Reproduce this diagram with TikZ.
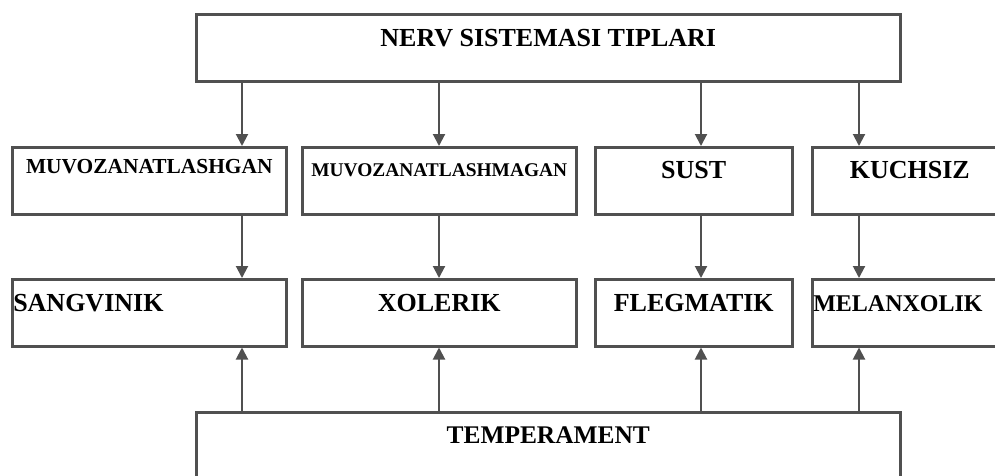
\documentclass[tikz,border=0pt]{standalone}
\usepackage{fontspec}
\setmainfont{Liberation Serif}
\usepackage{xcolor}
\usepackage{tikz}
\usetikzlibrary{arrows.meta, positioning}
\definecolor{linegray}{HTML}{505050}
\tikzset{
    typebox/.style={rectangle, draw=linegray, line width=2.5pt, fill=white, anchor=north west, inner xsep=0pt, inner ysep=0pt, minimum height=67pt, text height=32pt, text depth=35pt, font=\bfseries\fontsize{26}{30}\selectfont},
    leftbox/.style={typebox, align=left, inner xsep=1pt},
    arrow/.style={-{Triangle[width=12pt,length=12pt]}, line width=2pt, draw=linegray, fill=linegray}
}

\begin{document}
\begin{tikzpicture}[x=1pt, y=-1pt]
        \useasboundingbox (0,0) rectangle (995,475);
        \clip (0,0) rectangle (995,475);

        % Top
        \node[typebox, minimum width=704pt] (Nerv) at (195,13) {NERV SISTEMASI TIPLARI};

        % Nervous system types
        \node[typebox, minimum width=274pt, text height=26pt, text depth=41pt, font=\bfseries\fontsize{21.4}{24}\selectfont] (Muv) at (11,146) {MUVOZANATLASHGAN};
        \node[typebox, minimum width=274pt, text height=29pt, text depth=38pt, font=\bfseries\fontsize{19.4}{22}\selectfont] (MuvNo) at (301,146) {MUVOZANATLASHMAGAN};
        \node[typebox, minimum width=197pt, text height=31pt, text depth=36pt] (Sust) at (594,146) {SUST};
        \node[typebox, minimum width=195pt, text height=31pt, text depth=36pt] (Kuch) at (811,146) {KUCHSIZ};

        % Temperaments
        \node[leftbox, text width=272pt] (Sang) at (11,278) {SANGVINIK};
        \node[typebox, minimum width=274pt] (Xol) at (301,278) {XOLERIK};
        \node[typebox, minimum width=197pt] (Fleg) at (594,278) {FLEGMATIK};
        \node[leftbox, text width=193pt, font=\bfseries\fontsize{24}{28}\selectfont] (Mel) at (811,278) {MELANXOLIK};

        % Bottom
        \node[typebox, minimum width=704pt, text height=31pt, text depth=36pt, font=\bfseries\fontsize{25.4}{30}\selectfont] (Temp) at (195,411) {TEMPERAMENT};

        % Columns of the arrows
        \coordinate (c1) at (242,0);
        \coordinate (c2) at (439,0);
        \coordinate (c3) at (701,0);
        \coordinate (c4) at (859,0);

        % Connections
        \draw[arrow] (Nerv.south -| c1) -- (Muv.north -| c1);
        \draw[arrow] (Nerv.south -| c2) -- (MuvNo.north -| c2);
        \draw[arrow] (Nerv.south -| c3) -- (Sust.north -| c3);
        \draw[arrow] (Nerv.south -| c4) -- (Kuch.north -| c4);

        \draw[arrow] (Muv.south -| c1) -- (Sang.north -| c1);
        \draw[arrow] (MuvNo.south -| c2) -- (Xol.north -| c2);
        \draw[arrow] (Sust.south -| c3) -- (Fleg.north -| c3);
        \draw[arrow] (Kuch.south -| c4) -- (Mel.north -| c4);

        \draw[arrow] (Temp.north -| c1) -- (Sang.south -| c1);
        \draw[arrow] (Temp.north -| c2) -- (Xol.south -| c2);
        \draw[arrow] (Temp.north -| c3) -- (Fleg.south -| c3);
        \draw[arrow] (Temp.north -| c4) -- (Mel.south -| c4);

    \end{tikzpicture}
\end{document}
